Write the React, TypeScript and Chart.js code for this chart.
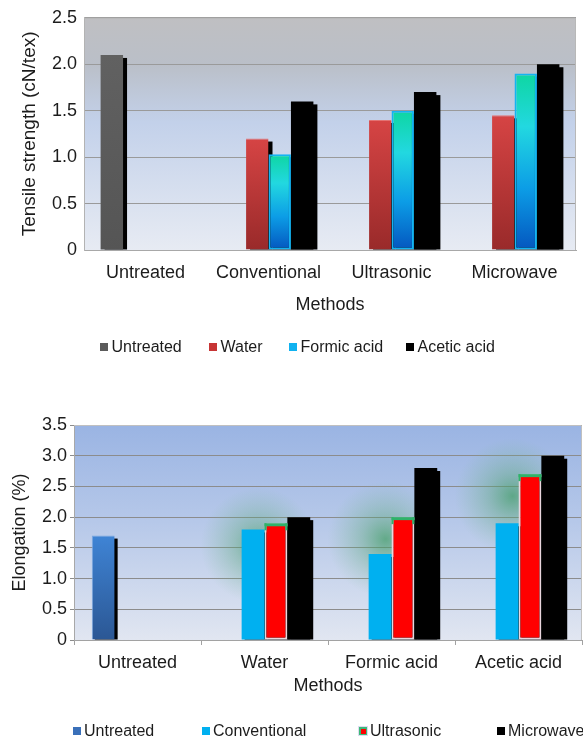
import { useEffect, useRef } from "react";
import { Chart, registerables } from "chart.js";

Chart.register(...registerables);

const FONT = '"Liberation Sans", Arial, Helvetica, sans-serif';
const TEXT = "#1c1c1c";

// Tensile strength by method, one series per treatment
const tensileMethods = ["Untreated", "Conventional", "Ultrasonic", "Microwave"];
const tensileTreatments = ["Untreated", "Water", "Formic acid", "Acetic acid"];
const tensileUntreated = [2.1, null, null, null];
const tensileWater = [null, 1.2, 1.4, 1.45];
const tensileFormic = [null, 1.03, 1.5, 1.9];
const tensileAcetic = [null, 1.6, 1.7, 2.0];
const tensileTickLabels = ["0", "0.5", "1.0", "1.5", "2.0", "2.5"];

// Elongation by treatment, one series per method
const elongationTreatments = ["Untreated", "Water", "Formic acid", "Acetic acid"];
const elongationMethods = ["Untreated", "Conventional", "Ultrasonic", "Microwave"];
const elongationUntreated = [1.7, null, null, null];
const elongationConventional = [null, 1.8, 1.4, 1.9];
const elongationUltrasonic = [null, 1.9, 2.0, 2.7];
const elongationMicrowave = [null, 2.0, 2.8, 3.0];
const elongationTickLabels = ["0", "0.5", "1.0", "1.5", "2.0", "2.5", "3.0", "3.5"];

type Stop = [number, string];

// Vertical gradient spanning each bar from its top down to the baseline
const barGradient = (stops: Stop[]) => (c: any) => {
  const chart = c.chart;
  const v = c.raw;
  if (!chart.chartArea || v == null || !chart.scales.y) return stops[stops.length - 1][1];
  const top = chart.scales.y.getPixelForValue(v);
  const base = chart.scales.y.getPixelForValue(0);
  const g = chart.ctx.createLinearGradient(0, top, 0, base);
  stops.forEach(([o, col]) => g.addColorStop(o, col));
  return g;
};

const plotBackground = {
  id: "plotBackground",
  beforeDraw(chart: any, _a: any, opts: any) {
    const { ctx, chartArea: a } = chart;
    const g = ctx.createLinearGradient(0, a.top, 0, a.bottom);
    opts.stops.forEach(([o, col]: Stop) => g.addColorStop(o, col));
    ctx.save();
    ctx.fillStyle = g;
    ctx.fillRect(a.left, a.top, a.right - a.left, a.bottom - a.top);
    ctx.restore();
  },
  afterDraw(chart: any, _a: any, opts: any) {
    const { ctx, chartArea: a } = chart;
    ctx.save();
    ctx.strokeStyle = opts.frame;
    ctx.lineWidth = 1;
    ctx.beginPath();
    ctx.moveTo(a.left, a.top + 0.5);
    ctx.lineTo(a.right - 0.5, a.top + 0.5);
    ctx.lineTo(a.right - 0.5, a.bottom);
    ctx.stroke();
    ctx.restore();
  },
};

// Soft green haze around the bars of one series
const seriesGlow = {
  id: "seriesGlow",
  beforeDatasetsDraw(chart: any, _a: any, opts: any) {
    if (opts.datasetIndex == null) return;
    const { ctx, chartArea: a } = chart;
    const ds = chart.data.datasets[opts.datasetIndex];
    const meta = chart.getDatasetMeta(opts.datasetIndex);
    ctx.save();
    ctx.beginPath();
    ctx.rect(a.left, a.top, a.right - a.left, a.bottom - a.top);
    ctx.clip();
    meta.data.forEach((el: any, j: number) => {
      if (ds.data[j] == null) return;
      const { x, y, width } = el.getProps(["x", "y", "width"], true);
      const cx = x - width / 2 - 6;
      const cy = y + 22;
      const r = 58;
      const g = ctx.createRadialGradient(cx, cy, 0, cx, cy, r);
      g.addColorStop(0, "rgba(60,155,95,0.7)");
      g.addColorStop(0.4, "rgba(85,165,115,0.38)");
      g.addColorStop(1, "rgba(120,185,145,0)");
      ctx.fillStyle = g;
      ctx.fillRect(cx - r, cy - r, 2 * r, 2 * r);
    });
    ctx.restore();
  },
};

// Hard black drop shadow behind every bar
const barShadow = {
  id: "barShadow",
  beforeDatasetsDraw(chart: any, _a: any, opts: any) {
    const { ctx, chartArea: a } = chart;
    ctx.save();
    ctx.beginPath();
    ctx.rect(a.left, a.top, a.right - a.left, a.bottom - a.top);
    ctx.clip();
    ctx.fillStyle = opts.color;
    chart.data.datasets.forEach((ds: any, i: number) => {
      const meta = chart.getDatasetMeta(i);
      meta.data.forEach((el: any, j: number) => {
        if (ds.data[j] == null) return;
        const { x, y, base, width } = el.getProps(["x", "y", "base", "width"], true);
        ctx.fillRect(x - width / 2 + opts.dx, y + opts.dy, width, base - y - opts.dy);
      });
    });
    ctx.restore();
  },
};

// Green cap along the top of one series' bars
const barCap = {
  id: "barCap",
  afterDatasetsDraw(chart: any, _a: any, opts: any) {
    if (opts.datasetIndex == null) return;
    const { ctx } = chart;
    const ds = chart.data.datasets[opts.datasetIndex];
    const meta = chart.getDatasetMeta(opts.datasetIndex);
    ctx.save();
    ctx.fillStyle = opts.color;
    meta.data.forEach((el: any, j: number) => {
      if (ds.data[j] == null) return;
      const { x, y, width } = el.getProps(["x", "y", "width"], true);
      ctx.fillRect(x - width / 2, y, width, 3);
      ctx.fillRect(x - width / 2, y, 2, 7);
      ctx.fillRect(x + width / 2 - 2, y, 2, 7);
    });
    ctx.restore();
  },
};

const boxLegend = {
  id: "boxLegend",
  afterDraw(chart: any, _a: any, opts: any) {
    const { ctx } = chart;
    ctx.save();
    ctx.font = `${opts.size}px ${FONT}`;
    ctx.textBaseline = "middle";
    ctx.textAlign = "left";
    chart.data.datasets.forEach((ds: any, i: number) => {
      const bx = opts.x[i];
      const by = opts.y - opts.box / 2;
      if (ds.legendEdge) {
        ctx.fillStyle = "#dcdcef";
        ctx.fillRect(bx - 1, by - 1, opts.box + 2, opts.box + 2);
        ctx.fillStyle = ds.legendEdge;
        ctx.fillRect(bx, by, opts.box, opts.box);
        ctx.fillStyle = ds.legendFill;
        ctx.fillRect(bx + 2, by + 2, opts.box - 3, opts.box - 3);
      } else {
        ctx.fillStyle = ds.legendFill;
        ctx.fillRect(bx, by, opts.box, opts.box);
      }
      ctx.fillStyle = TEXT;
      ctx.fillText(ds.label, bx + opts.box + opts.gap, opts.y + 1);
    });
    ctx.restore();
  },
};

const font = (size: number) => ({ family: FONT, size, weight: "normal" as const });

function tensileConfig(): any {
  return {
    type: "bar",
    data: {
      labels: tensileMethods,
      datasets: [
        {
          label: tensileTreatments[0],
          data: tensileUntreated,
          backgroundColor: barGradient([[0, "#616161"], [1, "#555555"]]),
          legendFill: "#5b5b5b",
        },
        {
          label: tensileTreatments[1],
          data: tensileWater,
          backgroundColor: barGradient([[0, "#d64444"], [1, "#992a2a"]]),
          borderColor: "#e37373",
          borderWidth: { top: 1, left: 0, right: 0, bottom: 0 },
          legendFill: "#c73535",
        },
        {
          label: tensileTreatments[2],
          data: tensileFormic,
          backgroundColor: barGradient([
            [0, "#0ed6a2"],
            [0.3, "#22d8e0"],
            [0.65, "#0c9de6"],
            [1, "#0456bf"],
          ]),
          borderColor: "#14b4f2",
          borderWidth: 2,
          borderSkipped: false,
          legendFill: "#10b2f0",
        },
        {
          label: tensileTreatments[3],
          data: tensileAcetic,
          backgroundColor: "#000000",
          legendFill: "#000000",
        },
      ],
    },
    options: {
      responsive: false,
      animation: false,
      layout: { padding: { left: 0, top: 17, right: 7, bottom: 50 } },
      datasets: { bar: { categoryPercentage: 0.73, barPercentage: 1 } },
      scales: {
        x: {
          grid: { display: true, drawOnChartArea: false, drawTicks: false },
          border: { display: true, color: "#a8a8a8" },
          ticks: { padding: 12, color: TEXT, font: font(18) },
          title: {
            display: true,
            text: "Methods",
            color: TEXT,
            font: font(18),
            padding: { top: 0, bottom: 4 },
          },
          afterFit: (s: any) => {
            s.height = 70;
          },
        },
        y: {
          min: 0,
          max: 2.5,
          ticks: {
            stepSize: 0.5,
            padding: 7,
            color: TEXT,
            font: font(18),
            callback: (_v: any, i: number) => tensileTickLabels[i],
          },
          grid: { color: "#9a9a9a", drawTicks: false },
          border: { display: true, color: "#b3b3b3" },
          title: {
            display: true,
            text: "Tensile strength (cN/tex)",
            color: TEXT,
            font: font(19),
            padding: { top: 18, bottom: 0 },
          },
          afterFit: (s: any) => {
            s.width = 84;
          },
        },
      },
      plugins: {
        legend: { display: false },
        tooltip: { enabled: false },
        plotBackground: {
          stops: [
            [0, "#bfbfc2"],
            [0.2, "#babfc8"],
            [0.45, "#c3d1ea"],
            [1, "#e7ebf3"],
          ],
          frame: "#b8b8b8",
        },
        barShadow: { dx: 4, dy: 3, color: "#000000" },
        boxLegend: { x: [100, 209, 289, 406], y: 347, box: 8, gap: 3.5, size: 16 },
      },
    },
    plugins: [plotBackground, barShadow, boxLegend],
  };
}

function elongationConfig(): any {
  return {
    type: "bar",
    data: {
      labels: elongationTreatments,
      datasets: [
        {
          label: elongationMethods[0],
          data: elongationUntreated,
          backgroundColor: barGradient([[0, "#3f84d5"], [1, "#2b5794"]]),
          borderColor: "#79a6df",
          borderWidth: { top: 1, left: 1, right: 0, bottom: 0 },
          legendFill: "#3a70b9",
        },
        {
          label: elongationMethods[1],
          data: elongationConventional,
          backgroundColor: "#00b0f0",
          legendFill: "#00b0f0",
        },
        {
          label: elongationMethods[2],
          data: elongationUltrasonic,
          backgroundColor: "#ff0000",
          borderColor: "#ead6de",
          borderWidth: 2,
          borderSkipped: false,
          legendFill: "#ff0000",
          legendEdge: "#3cb878",
        },
        {
          label: elongationMethods[3],
          data: elongationMicrowave,
          backgroundColor: "#000000",
          legendFill: "#000000",
        },
      ],
    },
    options: {
      responsive: false,
      animation: false,
      layout: { padding: { left: 0, top: 50, right: 1, bottom: 38 } },
      datasets: { bar: { categoryPercentage: 0.72, barPercentage: 1 } },
      scales: {
        x: {
          grid: {
            display: true,
            drawOnChartArea: false,
            drawTicks: true,
            tickLength: 5,
            color: "#a2a2a2",
          },
          border: { display: true, color: "#a2a2a2" },
          ticks: { padding: 7, color: TEXT, font: font(18) },
          title: {
            display: true,
            text: "Methods",
            color: TEXT,
            font: font(18),
            padding: { top: 0, bottom: 3 },
          },
          afterFit: (s: any) => {
            s.height = 60;
          },
        },
        y: {
          min: 0,
          max: 3.5,
          ticks: {
            stepSize: 0.5,
            padding: 3,
            color: TEXT,
            font: font(18),
            callback: (_v: any, i: number) => elongationTickLabels[i],
          },
          grid: { color: "#8c8c8c", drawTicks: true, tickLength: 4 },
          border: { display: true, color: "#a8a8a8" },
          title: {
            display: true,
            text: "Elongation (%)",
            color: TEXT,
            font: font(18),
            padding: { top: 9, bottom: 0 },
          },
          afterFit: (s: any) => {
            s.width = 74;
          },
        },
      },
      plugins: {
        legend: { display: false },
        tooltip: { enabled: false },
        plotBackground: {
          stops: [
            [0, "#9ab4e3"],
            [0.45, "#b6c8e9"],
            [1, "#e1e6f1"],
          ],
          frame: "#c0c0c0",
        },
        seriesGlow: { datasetIndex: 2 },
        barShadow: { dx: 3, dy: 3, color: "#000000" },
        barCap: { datasetIndex: 2, color: "#2fb26a" },
        boxLegend: { x: [73, 202, 359, 497], y: 356, box: 8, gap: 3, size: 16 },
      },
    },
    plugins: [plotBackground, seriesGlow, barShadow, barCap, boxLegend],
  };
}

function ChartCanvas({ make, top, height }: { make: () => any; top: number; height: number }) {
  const ref = useRef<HTMLCanvasElement>(null);
  useEffect(() => {
    const chart = new Chart(ref.current as HTMLCanvasElement, make());
    return () => chart.destroy();
  }, [make]);
  return (
    <canvas
      ref={ref}
      width={583}
      height={height}
      style={{ position: "absolute", left: 0, top, width: 583, height, display: "block" }}
    />
  );
}

export default function App() {
  return (
    <div style={{ position: "absolute", left: 0, top: 0, width: 583, height: 738, background: "#ffffff" }}>
      <ChartCanvas make={tensileConfig} top={0} height={370} />
      <ChartCanvas make={elongationConfig} top={375} height={363} />
    </div>
  );
}
